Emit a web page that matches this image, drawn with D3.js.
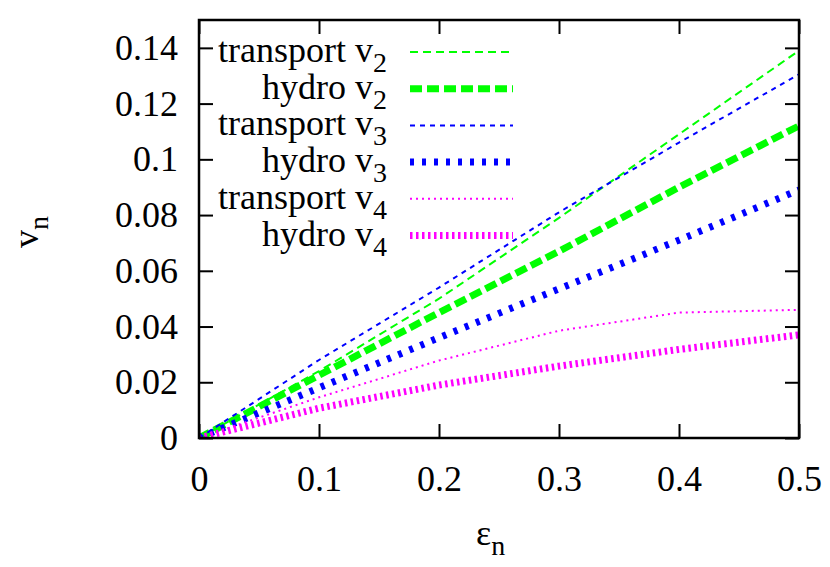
<!DOCTYPE html>
<html>
<head>
<meta charset="utf-8">
<script src="https://cdn.jsdelivr.net/npm/d3@7"></script>
<style>
  body { margin: 0; background: #fff; }
  text { font-family: "Liberation Serif", "DejaVu Serif", serif; fill: #000; }
</style>
</head>
<body>
<svg id="chart" width="830" height="567"></svg>
<script>
const eps = [0, 0.1, 0.2, 0.3, 0.4, 0.5];
const transportV2 = [0, 0.024, 0.050, 0.079, 0.109, 0.139];
const hydroV2 = [0, 0.0225, 0.045, 0.067, 0.090, 0.112];
const transportV3 = [0, 0.028, 0.054, 0.081, 0.106, 0.1305];
const hydroV3 = [0, 0.018, 0.036, 0.0535, 0.071, 0.089];
const transportV4 = [0, 0.0146, 0.0278, 0.0385, 0.045, 0.046];
const hydroV4 = [0, 0.0107, 0.019, 0.0258, 0.0318, 0.037];
const xTicks = [0, 0.1, 0.2, 0.3, 0.4, 0.5];
const yTicks = [0, 0.02, 0.04, 0.06, 0.08, 0.1, 0.12, 0.14];

const series = [
  { name: "transport v", sub: "2", values: transportV2, color: "#00ff00", width: 2, dash: "8,5" },
  { name: "hydro v", sub: "2", values: hydroV2, color: "#00ff00", width: 7, dash: "12,5" },
  { name: "transport v", sub: "3", values: transportV3, color: "#0000ff", width: 2, dash: "5,5" },
  { name: "hydro v", sub: "3", values: hydroV3, color: "#0000ff", width: 7, dash: "4,8" },
  { name: "transport v", sub: "4", values: transportV4, color: "#ff00ff", width: 2, dash: "2,4" },
  { name: "hydro v", sub: "4", values: hydroV4, color: "#ff00ff", width: 7, dash: "2.5,3.5" }
];

const margin = { left: 199, right: 31, top: 20, bottom: 129 };
const width = 830 - margin.left - margin.right;
const height = 567 - margin.top - margin.bottom;
const fontSize = 36;
const subSize = 28;

const svg = d3.select("#chart");
const g = svg.append("g").attr("transform", `translate(${margin.left},${margin.top})`);

const x = d3.scaleLinear().domain([0, 0.5]).range([0, width]);
const y = d3.scaleLinear().domain([0, 0.15]).range([height, 0]);

const clip = g.append("clipPath").attr("id", "plot-clip");
clip.append("rect").attr("width", width).attr("height", height);

const line = vals => d3.line()
  .x((d, i) => x(eps[i]))
  .y(d => y(d))(vals);

const plot = g.append("g").attr("clip-path", "url(#plot-clip)");
series.forEach(s => {
  plot.append("path")
    .attr("d", line(s.values))
    .attr("fill", "none")
    .attr("stroke", s.color)
    .attr("stroke-width", s.width)
    .attr("stroke-dasharray", s.dash);
});

// ticks on all four sides, pointing inward
const tickLen = 14;
const tickFmt = d => d === 0 ? "0" : String(+d.toFixed(2));
const xAxis = d3.axisBottom(x).tickValues(xTicks).tickSize(-tickLen).tickPadding(27).tickFormat(tickFmt);
const yAxis = d3.axisLeft(y).tickValues(yTicks).tickSize(-tickLen).tickPadding(21).tickFormat(tickFmt);

const xg = g.append("g").attr("transform", `translate(0,${height})`).call(xAxis);
const yg = g.append("g").call(yAxis);
g.append("g").call(d3.axisTop(x).tickValues(xTicks).tickSize(-tickLen).tickFormat(""));
g.append("g").attr("transform", `translate(${width},0)`)
  .call(d3.axisRight(y).tickValues(yTicks).tickSize(-tickLen).tickFormat(""));

g.selectAll(".domain").remove();
g.selectAll(".tick line").attr("stroke", "#000").attr("stroke-width", 2);
[xg, yg].forEach(a => a.selectAll(".tick text")
  .style("font-family", "Liberation Serif")
  .style("font-size", fontSize + "px"));

g.append("rect")
  .attr("width", width).attr("height", height)
  .attr("fill", "none").attr("stroke", "#000").attr("stroke-width", 2.5);

// legend
const legend = g.append("g");
series.forEach((s, i) => {
  const ly = 32 + i * 36.7;
  const t = legend.append("text")
    .attr("x", 188).attr("y", ly + 10)
    .attr("text-anchor", "end")
    .style("font-size", fontSize + "px");
  t.append("tspan").text(s.name);
  t.append("tspan").attr("dy", 10).style("font-size", subSize + "px").text(s.sub);
  legend.append("line")
    .attr("x1", 211).attr("x2", 314)
    .attr("y1", ly).attr("y2", ly)
    .attr("stroke", s.color)
    .attr("stroke-width", s.width)
    .attr("stroke-dasharray", s.dash);
});

// axis labels
const xl = svg.append("text").attr("x", 476).attr("y", 545).style("font-size", fontSize + "px");
xl.append("tspan").text("ε");
xl.append("tspan").attr("dy", 10).style("font-size", subSize + "px").text("n");

const yl = svg.append("text")
  .attr("transform", "translate(38,248) rotate(-90)")
  .style("font-size", fontSize + "px");
yl.append("tspan").text("v");
yl.append("tspan").attr("dy", 10).style("font-size", subSize + "px").text("n");
</script>
</body>
</html>
